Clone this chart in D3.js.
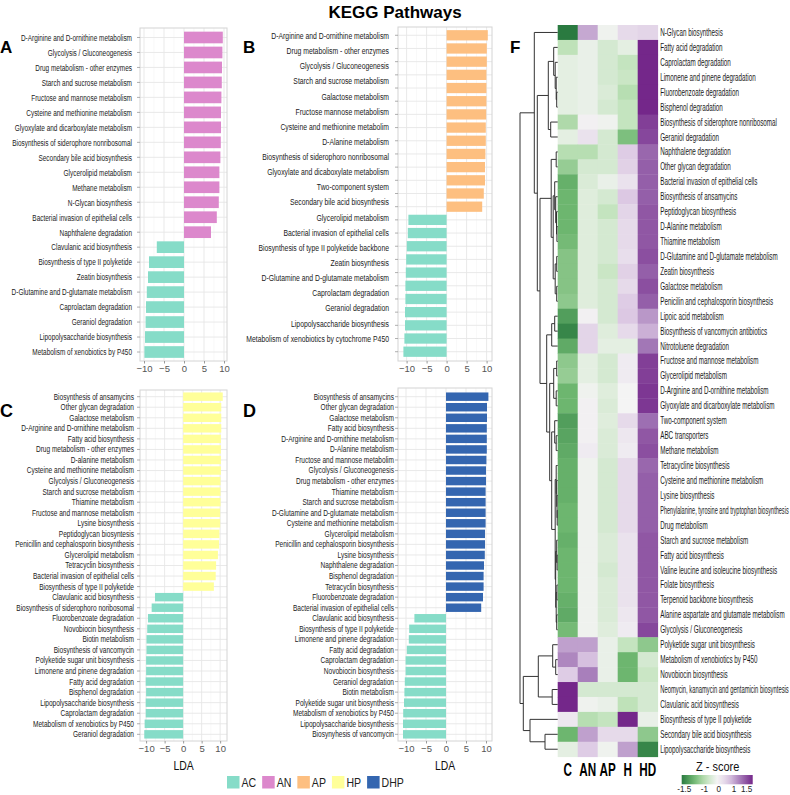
<!DOCTYPE html>
<html><head><meta charset="utf-8">
<script src="https://cdn.jsdelivr.net/npm/d3@7"></script>
<style>body{margin:0;background:#fff}svg{display:block}text{font-family:"Liberation Sans",Arial,sans-serif}</style>
</head><body><svg id="chart" width="790" height="795"></svg>
<script>
// ---------------- DATA ----------------
const groups = ["AC","AN","AP","HP","DHP"];
const groupColors = ["#86dcc8","#dc88cc","#fdbf80","#ffff99","#3466b0"];
const xTicks = [-10,-5,0,5,10];

const aLabels = ["D-Arginine and D-ornithine metabolism","Glycolysis / Gluconeogenesis","Drug metabolism - other enzymes","Starch and sucrose metabolism","Fructose and mannose metabolism","Cysteine and methionine metabolism","Glyoxylate and dicarboxylate metabolism","Biosynthesis of siderophore nonribosomal","Secondary bile acid biosynthesis","Glycerolipid metabolism","Methane metabolism","N-Glycan biosynthesis","Bacterial invasion of epithelial cells","Naphthalene degradation","Clavulanic acid biosynthesis","Biosynthesis of type II polyketide","Zeatin biosynthesis","D-Glutamine and D-glutamate metabolism","Caprolactam degradation","Geraniol degradation","Lipopolysaccharide biosynthesis","Metabolism of xenobiotics by P450"];
const aValues = [9.7,9.6,9.5,9.45,9.35,9.25,9.25,9.2,9.1,8.85,8.85,8.7,8.2,6.75,-6.8,-8.75,-9.0,-9.3,-9.5,-9.6,-9.75,-9.9];

const bLabels = ["D-Arginine and D-ornithine metabolism","Drug metabolism - other enzymes","Glycolysis / Gluconeogenesis","Starch and sucrose metabolism","Galactose metabolism","Fructose mannose metabolism","Cysteine and methionine metabolim","D-Alanine metabolism","Biosynthesis of siderophoro nonribosomal","Glyoxylate and dicaboxylate metabolism","Two-component system","Secondary bile acid biosynthesis","Glycerolipid metabolism","Bacterial invasion of epithelial cells","Biosynthesis of type II polyketide backbone","Zeatin biosynthesis","D-Glutamine and D-glutamate metabolism","Caprolactam degradation","Geraniol degradation","Lipopolysaccharide biosynthesis","Metabolism of xenobiotics by cytochrome P450"];
const bValues = [10.3,10.05,10.05,9.95,9.95,9.95,9.9,9.8,9.8,9.7,9.6,9.6,9.3,8.9,-9.55,-9.7,-9.95,-10.1,-10.2,-10.3,-10.3,-10.4,-10.4,-10.55,-10.8];

const cLabels = ["Biosynthesis of ansamycins","Other glycan degradation","Galactose metabolism","D-Arginine and D-ornithine metabolism","Fatty acid biosynthesis","Drug metabolism - other enzymes","D-alanine metabolism","Cysteine and methionine metabolism","Glycolysis / Gluconeogenesis","Starch and sucrose metabolism","Thiamine metabolism","Fructose and mannose metabolism","Lysine biosynthesis","Peptidoglycan biosyntesis","Penicillin and cephalosporin biosynthesis","Glycerolipid metabolism","Tetracyclin biosynthesis","Bacterial invasion of epithelial cells","Biosynthesis of type II polyketide","Clavulanic acid biosynthesis","Biosynthesis of siderophoro noribosomal","Fluorobenzoate degradation","Novobiocin biosynthesis","Biotin metabolism","Biosynthesis of vancomycin","Polyketide sugar unit biosynthesis","Limonene and pinene degradation","Fatty acid degradation","Bisphenol degradation","Lipopolysaccharide biosynthesis","Caprolactam degradation","Metabolism of xenobiotics by P450","Geraniol degradation"];
const cValues = [10.7,10.3,10.3,10.3,10.2,10.2,10.2,10.2,10.1,10.1,10.1,10.0,10.0,9.8,9.7,9.4,8.9,8.8,8.3,-7.6,-8.5,-9.5,-9.7,-9.9,-9.9,-10.0,-10.0,-10.1,-10.0,-10.1,-10.1,-10.4,-10.5];

const dLabels = ["Biosynthesis of ansamycins","Other glycan degradation","Galactose metabolism","Fatty acid biosynthesis","D-Arginine and D-ornithine metabolism","D-Alanine metabolism","Fructose and mannose metabolim","Glycolysis / Gluconeogenesis","Drug metabolism - other enzymes","Thiamine metabolism","Starch and sucrose metabolism","D-Glutamine and D-glutamate metabolism","Cysteine and methionine metabolism","Glycerolipid metabolism","Penicillin and cephalosporin biosynthesis","Lysine biosynthesis","Naphthalene degradation","Bisphenol degradation","Tetracyclin biosynthesis","Fluorobenzoate degradation","Bacterial invasion of epithelial cells","Clavulanic acid biosynthesis","Biosynthesis of type II polyketide","Limonene and pinene degradation","Fatty acid degradation","Caprolactam degradation","Novobiocin biosynthesis","Geraniol degradation","Biotin metabolism","Polyketide sugar unit biosynthesis","Metabolism of xenobiotics by P450","Lipopolysaccharide biosynthesis","Biosynyhesis of vancomycin"];
const dValues = [10.6,10.25,10.25,10.2,10.2,10.2,10.1,10.0,10.0,9.9,9.9,9.9,9.9,9.75,9.75,9.7,9.5,9.4,9.4,9.25,8.8,-7.9,-9.2,-9.3,-9.8,-10.1,-10.1,-10.3,-10.4,-10.5,-10.7,-10.75,-10.75];

const heatCols = ["C","AN","AP","H","HD"];
const heatRows = ["N-Glycan biosynthesis","Fatty acid degradation","Caprolactam degradation","Limonene and pinene degradation","Fluorobenzoate degradation","Bisphenol degradation","Biosynthesis of siderophore nonribosomal","Geraniol degradation","Naphthalene degradation","Other glycan degradation","Bacterial invasion of epithelial cells","Biosynthesis of ansamycins","Peptidoglycan biosynthesis","D-Alanine metabolism","Thiamine metabolism","D-Glutamine and D-glutamate metabolism","Zeatin biosynthesis","Galactose metabolism","Penicilin and cephalosporin biosynthesis","Lipoic acid metabolism","Biosynthesis of vancomycin antibiotics","Nitrotoluene degradation","Fructose and mannose metabolism","Glycerolipid metabolism","D-Arginine and D-ornithine metabolism","Glyoxylate and dicarboxylate metabolism","Two-component system","ABC transporters","Methane metabolism","Tetracycline biosynthesis","Cysteine and methionine metabolism","Lysine biosynthesis","Phenylalanine, tyrosine and tryptophan biosynthesis","Drug metabolism","Starch and sucrose metabolism","Fatty acid biosynthesis","Valine leucine and isoleucine biosynthesis","Folate biosynthesis","Terpenoid backbone biosynthesis","Alanine aspartate and glutamate metabolism","Glycolysis / Gluconeogenesis","Polyketide sugar unit biosynthesis","Metabolism of xenobiotics by P450","Novobiocin biosynthesis","Neomycin, kanamycin and gentamicin biosyntesis","Clavulanic acid biosynthesis","Biosynthesis of type II polyketide","Secondary bile acid biosynthesis","Lipopolysaccharide biosynthesis"];
const heatValues = [
[-1.5,0.7,-0.05,0.3,0.35],[-0.5,-0.1,-0.3,-0.15,1.5],[-0.15,-0.1,-0.3,-0.45,1.55],[-0.15,-0.1,-0.3,-0.4,1.5],
[-0.15,-0.1,-0.25,-0.55,1.5],[-0.15,-0.1,-0.3,-0.45,1.5],[-0.6,0.05,-0.05,-0.45,1.35],[-0.15,0.2,-0.3,-0.9,1.3],
[-0.55,-0.55,-0.3,0.45,1.1],[-0.75,-0.3,-0.3,0.4,1.15],[-1.05,-0.25,-0.1,0.2,1.15],[-1.0,-0.2,-0.3,0.5,1.15],
[-1.0,-0.2,-0.45,0.35,1.2],[-1.0,-0.2,-0.3,0.3,1.2],[-0.95,-0.2,-0.3,0.3,1.2],[-0.85,-0.2,-0.3,0.25,1.25],
[-0.85,-0.2,-0.4,0.4,1.15],[-0.85,-0.2,-0.3,0.3,1.25],[-0.8,-0.2,-0.3,0.45,1.15],[-1.2,0.05,-0.3,0.5,0.8],
[-1.4,0.35,-0.2,0.3,0.65],[-1.1,0.35,-0.15,-0.15,1.0],[-0.8,-0.15,-0.3,0.1,1.35],[-0.75,-0.15,-0.3,0.1,1.35],
[-1.0,-0.05,-0.2,0.0,1.4],[-1.0,0.05,-0.25,0.0,1.4],[-1.2,0.05,-0.2,0.3,1.05],[-1.15,0.05,-0.25,0.15,1.2],
[-1.1,0.1,-0.25,0.1,1.25],[-1.05,-0.05,-0.3,0.3,1.1],[-1.05,-0.05,-0.3,0.3,1.15],[-1.05,-0.05,-0.3,0.3,1.15],
[-1.0,-0.05,-0.3,0.3,1.15],[-1.0,-0.05,-0.3,0.3,1.15],[-1.05,-0.05,-0.25,0.2,1.2],[-1.0,-0.05,-0.25,0.2,1.2],
[-1.0,-0.05,-0.3,0.2,1.2],[-1.0,-0.05,-0.25,0.2,1.2],[-1.05,-0.05,-0.25,0.2,1.2],[-1.1,-0.05,-0.25,0.15,1.2],
[-0.95,-0.05,-0.2,0.1,1.3],[0.75,0.75,-0.1,-0.45,-0.8],[0.9,0.55,-0.1,-1.0,-0.3],[0.45,0.95,-0.1,-1.0,-0.4],
[1.6,-0.3,-0.3,-0.3,-0.3],[1.5,-0.05,-0.1,-0.5,-0.3],[0.15,-0.55,-0.45,1.5,-0.1],[-1.0,0.75,0.3,0.3,-0.8],
[-0.15,0.45,-0.05,0.75,-1.4]];
// dendrogram: [height, left, right]; leaves are heatRows indices
const dendro = [37.7,
  [23.4, 0,
    [20.4,
      [9.4, [4, 1, [2.5, 2, [1.5, 3, [1, 4, 5]]]], [7, 6, 7]],
      [17.7,
        [6.5, [1.5, 8, 9], [4.5, [3, 10, [2, 11, [1.2, 12, [0.8, 13, 14]]]], [2.5, [1, 15, 16], [1, 17, 18]]]],
        [11, [6, [3, 19, 20], 21],
             [8, [4, [1, 22, 23], [1.5, 24, 25]],
                 [6, [3, 26, [1.5, 27, 28]],
                     [2.5, [1.5, 29, [1, 30, [0.7, 31, [0.5, 32, 33]]]],
                           [2, [1, 34, [0.6, 35, 36]], [1.5, [0.8, 37, 38], [1, 39, 40]]]]]]]]]],
  [34.4, [19.4, [5, 41, [2, 42, 43]], [5.5, 44, 45]], [27.7, 46, [12.7, 47, 48]]]];
const zTicks = [-1.5,-1,0,1,1.5];

// ---------------- DRAW ----------------
const svg = d3.select("#chart");
function ctext(parent, x, y, str, o) {
  const g = parent.append("g");
  const t = g.append("text").attr("text-anchor", o.anchor||"start").attr("dy", o.dy==null?"0.35em":o.dy)
    .attr("font-size", o.size).attr("font-weight", o.weight||"normal").attr("fill", o.fill||"#000").text(str);
  let sx = o.sx || 1;
  if (o.maxRight != null) {
    const len = t.node().getComputedTextLength();
    if (x + len*sx > o.maxRight) sx = (o.maxRight - x) / len;
  }
  g.attr("transform", `translate(${x},${y}) scale(${sx},1)`);
  return t;
}
const colorOf = g => groupColors[groups.indexOf(g)];

function drawBarPanel(c) {
  const g = svg.append("g");
  const x = d3.scaleLinear().domain(c.domain).range([c.x0, c.x1]);
  const idx = d3.range(c.values.length);
  const y = d3.scaleBand().domain(idx).range(c.band).paddingInner(c.pad).paddingOuter(c.pad/2);
  const cy = i => y(i) + y.bandwidth()/2;
  g.append("rect").attr("x", c.x0).attr("y", c.y0).attr("width", c.x1-c.x0).attr("height", c.y1-c.y0).attr("fill", "#fff");
  const minor = xTicks.slice(0,-1).map((t,i)=> (t+xTicks[i+1])/2);
  g.selectAll(".mn").data(minor).join("line").attr("x1", x).attr("x2", x).attr("y1", c.y0).attr("y2", c.y1).attr("stroke", "#f3f3f3").attr("stroke-width", 0.6);
  g.selectAll(".mj").data(xTicks).join("line").attr("x1", x).attr("x2", x).attr("y1", c.y0).attr("y2", c.y1).attr("stroke", "#e6e6e6").attr("stroke-width", 0.9);
  g.selectAll(".hg").data(idx).join("line").attr("x1", c.x0).attr("x2", c.x1).attr("y1", cy).attr("y2", cy).attr("stroke", "#e6e6e6").attr("stroke-width", 0.9);
  g.selectAll(".bar").data(c.values).join("rect")
    .attr("x", v => x(Math.min(0, v))).attr("width", v => Math.abs(x(v) - x(0)))
    .attr("y", (v,i) => y(i)).attr("height", y.bandwidth())
    .attr("fill", v => v >= 0 ? colorOf(c.pos) : colorOf("AC"));
  g.append("rect").attr("x", c.x0).attr("y", c.y0).attr("width", c.x1-c.x0).attr("height", c.y1-c.y0).attr("fill", "none").attr("stroke", "#d4d4d4").attr("stroke-width", 1);
  g.selectAll(".yt").data(idx).join("line").attr("x1", c.x0-3).attr("x2", c.x0).attr("y1", cy).attr("y2", cy).attr("stroke", "#9a9a9a").attr("stroke-width", 0.8);
  const ax = svg.append("g").attr("transform", `translate(0,${c.y1})`)
    .call(d3.axisBottom(x).tickValues(xTicks).tickSize(2.5).tickPadding(2).tickFormat(d3.format("d")));
  ax.select(".domain").remove();
  ax.selectAll("line").attr("stroke", "#9a9a9a");
  ax.selectAll("text").attr("font-size", 9.5).attr("fill", "#555").attr("font-family", "Liberation Sans, Arial, sans-serif");
  const lc = c.labelRange ? d3.scalePoint().domain(d3.range(c.labels.length)).range(c.labelRange) : cy;
  c.labels.forEach((l, i) => ctext(g, c.labelX, lc(i), l, {anchor:"end", size:c.fs, sx:c.sx, fill:"#1a1a1a"}));
  if (c.lda) ctext(g, (c.x0+c.x1)/2, c.y1+24, "LDA", {anchor:"middle", size:13, sx:0.8, fill:"#111"});
  ctext(g, c.letter[1], c.letter[2], c.letter[0], {size:c.letter[3], weight:"bold", dy:0});
}

drawBarPanel({labels:aLabels, values:aValues, pos:"AN", domain:[-11,10.75], x0:140, x1:227, y0:28, y1:361, band:[30,359.5], pad:0.22, labelX:132, fs:9.5, sx:0.68, letter:["A",0,53,17]});
drawBarPanel({labels:bLabels, values:bValues, pos:"AP", domain:[-12.15,11.35], x0:398, x1:492, y0:27, y1:361, band:[28.7,358.3], pad:0.22, labelX:389, fs:9.5, sx:0.72, labelRange:[35.7,338.3], letter:["B",243,53,17]});
drawBarPanel({labels:cLabels, values:cValues, pos:"HP", domain:[-11.65,11.85], x0:140, x1:227, y0:390, y1:741, band:[391.4,739.6], pad:0.2, labelX:134, fs:8.4, sx:0.78, lda:true, letter:["C",0,417,18]});
drawBarPanel({labels:dLabels, values:dValues, pos:"DHP", domain:[-12,11.5], x0:398, x1:492, y0:388, y1:741, band:[391.4,739.6], pad:0.2, labelX:394, fs:8.4, sx:0.78, lda:true, letter:["D",243,417,18]});

svg.append("text").attr("x", 395).attr("y", 18).attr("text-anchor", "middle").attr("font-size", 17).attr("font-weight", "bold").text("KEGG Pathways");

{
  let lx = 227;
  const lg = svg.append("g");
  groups.forEach((gname, i) => {
    lg.append("rect").attr("x", lx).attr("y", 776).attr("width", 12.5).attr("height", 12.5).attr("fill", groupColors[i]);
    const t = ctext(lg, lx + 14.5, 782.5, gname, {size:12, sx:0.88, fill:"#222"});
    lx += 14.5 + t.node().getComputedTextLength()*0.88 + 6;
  });
}

// heatmap
const hm = {x0:557.7, x1:657.7, y0:25, y1:756.7};
const hxS = d3.scaleBand().domain(heatCols).range([hm.x0, hm.x1]);
const hyS = d3.scaleBand().domain(heatRows).range([hm.y0, hm.y1]);
const zColor = d3.scaleLinear().domain([-1.5,-1,-0.5,0,0.5,1,1.5])
  .range(["#2a7a40","#6db66f","#bfe2b9","#f4f4f4","#dcc8e3","#a277b6","#74278a"]).clamp(true);
const hg = svg.append("g");
heatRows.forEach((r, i) => {
  heatCols.forEach((cname, j) => {
    hg.append("rect").attr("x", hxS(cname)).attr("y", hyS(r)).attr("width", hxS.bandwidth()+0.4).attr("height", hyS.bandwidth()+0.4)
      .attr("fill", zColor(heatValues[i][j]));
  });
  ctext(hg, hm.x1 + 2.5, hyS(r) + hyS.bandwidth()/2, r, {size:10, sx:0.63, fill:"#1a1a1a", maxRight:789});
});
heatCols.forEach(cname => ctext(hg, hxS(cname) + hxS.bandwidth()/2, 770, cname, {anchor:"middle", size:18, weight:"bold", sx:0.65}));
ctext(hg, 510, 53, "F", {size:17, weight:"bold", dy:0});

const dg = svg.append("g").attr("stroke", "#333").attr("stroke-width", 1).attr("fill", "none");
const dx = d3.scaleLinear().domain([0, dendro[0]]).range([hm.x0, 520]);
function drawNode(n) {
  if (typeof n === "number") return {y: hyS(heatRows[n]) + hyS.bandwidth()/2, h: 0};
  const [h, a, b] = n;
  const A = drawNode(a), B = drawNode(b);
  dg.append("line").attr("x1", dx(h)).attr("x2", dx(h)).attr("y1", A.y).attr("y2", B.y);
  dg.append("line").attr("x1", dx(h)).attr("x2", dx(A.h)).attr("y1", A.y).attr("y2", A.y);
  dg.append("line").attr("x1", dx(h)).attr("x2", dx(B.h)).attr("y1", B.y).attr("y2", B.y);
  return {y: (A.y + B.y)/2, h};
}
drawNode(dendro);

{
  const zg = svg.append("g");
  const zx = d3.scaleLinear().domain(zTicks).range([684.3, 704.3, 718.7, 734, 746.7]);
  const grad = svg.append("defs").append("linearGradient").attr("id", "zgrad");
  d3.range(0, 1.0001, 0.1).forEach(t => grad.append("stop").attr("offset", t).attr("stop-color", zColor(-1.5 + 3*t)));
  zg.append("rect").attr("x", 681.7).attr("y", 775).attr("width", 71).attr("height", 9.3).attr("fill", "url(#zgrad)");
  ctext(zg, 717.7, 767, "Z - score", {anchor:"middle", size:12.5, sx:0.88, fill:"#111"});
  zTicks.forEach(t => ctext(zg, zx(t), 789.3, String(t), {anchor:"middle", size:9, sx:0.9, fill:"#222"}));
}
</script></body></html>
